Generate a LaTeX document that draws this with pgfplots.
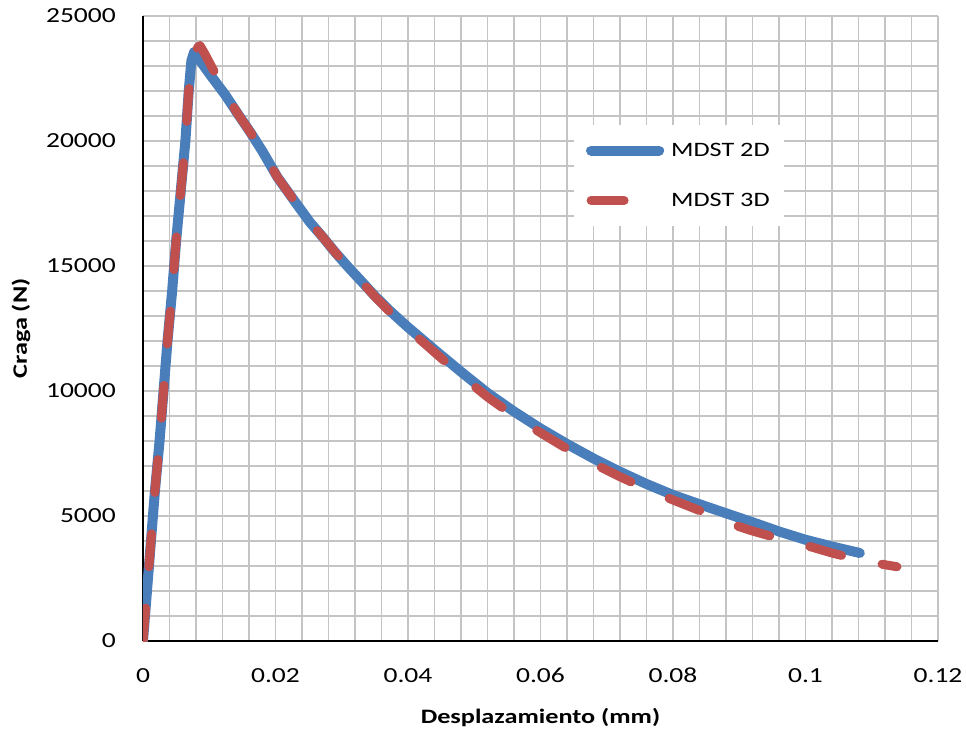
\documentclass[border=0pt]{standalone}
\usepackage{pgfplots}
\pgfplotsset{compat=1.18}
\usepackage{fontspec}
\setmainfont{Carlito}[FakeStretch=1.28]

\definecolor{exblue}{RGB}{74,126,187}
\definecolor{exred}{RGB}{192,80,77}
\definecolor{gridgray}{RGB}{196,196,196}

\pgfplotsset{
  longline legend/.style={
    legend image code/.code={\draw[##1] (0pt,0pt) -- (68pt,0pt);
      \path (73pt,0pt);}},
}

\begin{document}
\begin{tikzpicture}
\path[use as bounding box] (-143pt,-93pt) rectangle (823pt,641pt);
\begin{axis}[
  anchor=south west,
  at={(0pt,0pt)},
  scale only axis,
  width=795pt,
  height=625pt,
  xmin=0, xmax=0.12,
  ymin=0, ymax=25000,
  xtick={0,0.02,0.04,0.06,0.08,0.1,0.12},
  ytick={0,5000,10000,15000,20000,25000},
  minor x tick num=4,
  minor y tick num=4,
  grid=both,
  major grid style={gridgray, line width=1.6pt},
  minor grid style={gridgray, line width=1.6pt},
  major tick length=0pt,
  minor tick length=0pt,
  axis x line*=bottom,
  axis y line*=left,
  axis line style={black, line width=2pt, -},
  scaled x ticks=false,
  scaled y ticks=false,
  /pgf/number format/assume math mode=true,
  xticklabel style={font=\fontsize{21.5}{24}\selectfont, /pgf/number format/fixed,
    /pgf/number format/precision=2, anchor=base, inner sep=0pt, yshift=-41pt},
  yticklabel style={font=\fontsize{21.5}{24}\selectfont, /pgf/number format/fixed,
    /pgf/number format/1000 sep={}, anchor=east, inner sep=0pt, xshift=-27pt},
  xlabel={\textbf{Desplazamiento (mm)}},
  ylabel={\textbf{Craga (N)}},
  label style={font=\fontsize{20.5}{24}\selectfont},
  xlabel style={at={(axis description cs:0.5,-0.1312)}, anchor=base},
  ylabel style={at={(axis description cs:-0.1535,0.5)}, anchor=center},
  legend style={at={(rel axis cs:0.542,0.8256)}, anchor=north west,
    draw=none, fill=white, font=\fontsize{20.5}{24}\selectfont,
    inner xsep=12pt, inner ysep=16pt, row sep=31pt},
  legend cell align=left,
]
\addplot[exblue, line width=10pt, line cap=round, line join=round, longline legend]
coordinates {
(0,0) (0.0006,2000) (0.0012,4000) (0.0018,6000) (0.0025,8000)
(0.0031,10000) (0.0037,12000) (0.0044,14000) (0.0050,16000)
(0.0057,18000) (0.0064,20000) (0.0069,22000) (0.0073,23200)
(0.0077,23550) (0.0100,22700) (0.0124,21850) (0.0144,21050)
(0.0162,20350) (0.0180,19600) (0.0203,18550) (0.0230,17550)
(0.0252,16750) (0.0270,16200) (0.0290,15550) (0.0310,14950)
(0.0330,14380) (0.0350,13800) (0.0375,13150) (0.0400,12550)
(0.0440,11650) (0.0480,10770) (0.0520,9920) (0.0560,9180)
(0.0600,8500) (0.0640,7880) (0.0680,7300) (0.0720,6770)
(0.0760,6280) (0.0800,5840) (0.0840,5470) (0.0880,5110)
(0.0920,4750) (0.0960,4380) (0.1000,4050) (0.1040,3780)
(0.1082,3520)
};
\addlegendentry{MDST 2D}
\addplot[exred, line width=9pt, line cap=round, line join=round,
  dash pattern=on 33pt off 41.5pt, longline legend]
coordinates {
(0,0) (0.0006,2000) (0.0012,4000) (0.0018,6000) (0.0025,8000)
(0.0031,10000) (0.0037,12000) (0.0044,14000) (0.0050,16000)
(0.0057,18000) (0.0064,20000) (0.0069,22000) (0.0075,23250)
(0.0081,23700) (0.0086,23820) (0.0093,23500) (0.0110,22650)
(0.0124,21900) (0.0144,21050) (0.0162,20350) (0.0180,19600)
(0.0203,18550) (0.0230,17550) (0.0252,16750) (0.0270,16200)
(0.0290,15550) (0.0310,14950) (0.0330,14370) (0.0350,13780)
(0.0375,13100) (0.0400,12480) (0.0440,11550) (0.0480,10620)
(0.0520,9760) (0.0560,9000) (0.0600,8330) (0.0640,7690)
(0.0680,7100) (0.0720,6570) (0.0760,6080) (0.0800,5640)
(0.0840,5220) (0.0880,4750) (0.0920,4400) (0.0960,4100)
(0.1000,3830) (0.1040,3520) (0.1080,3250) (0.1120,3050)
(0.1138,2970)
};
\addlegendentry{MDST 3D}
\end{axis}
\end{tikzpicture}
\end{document}
